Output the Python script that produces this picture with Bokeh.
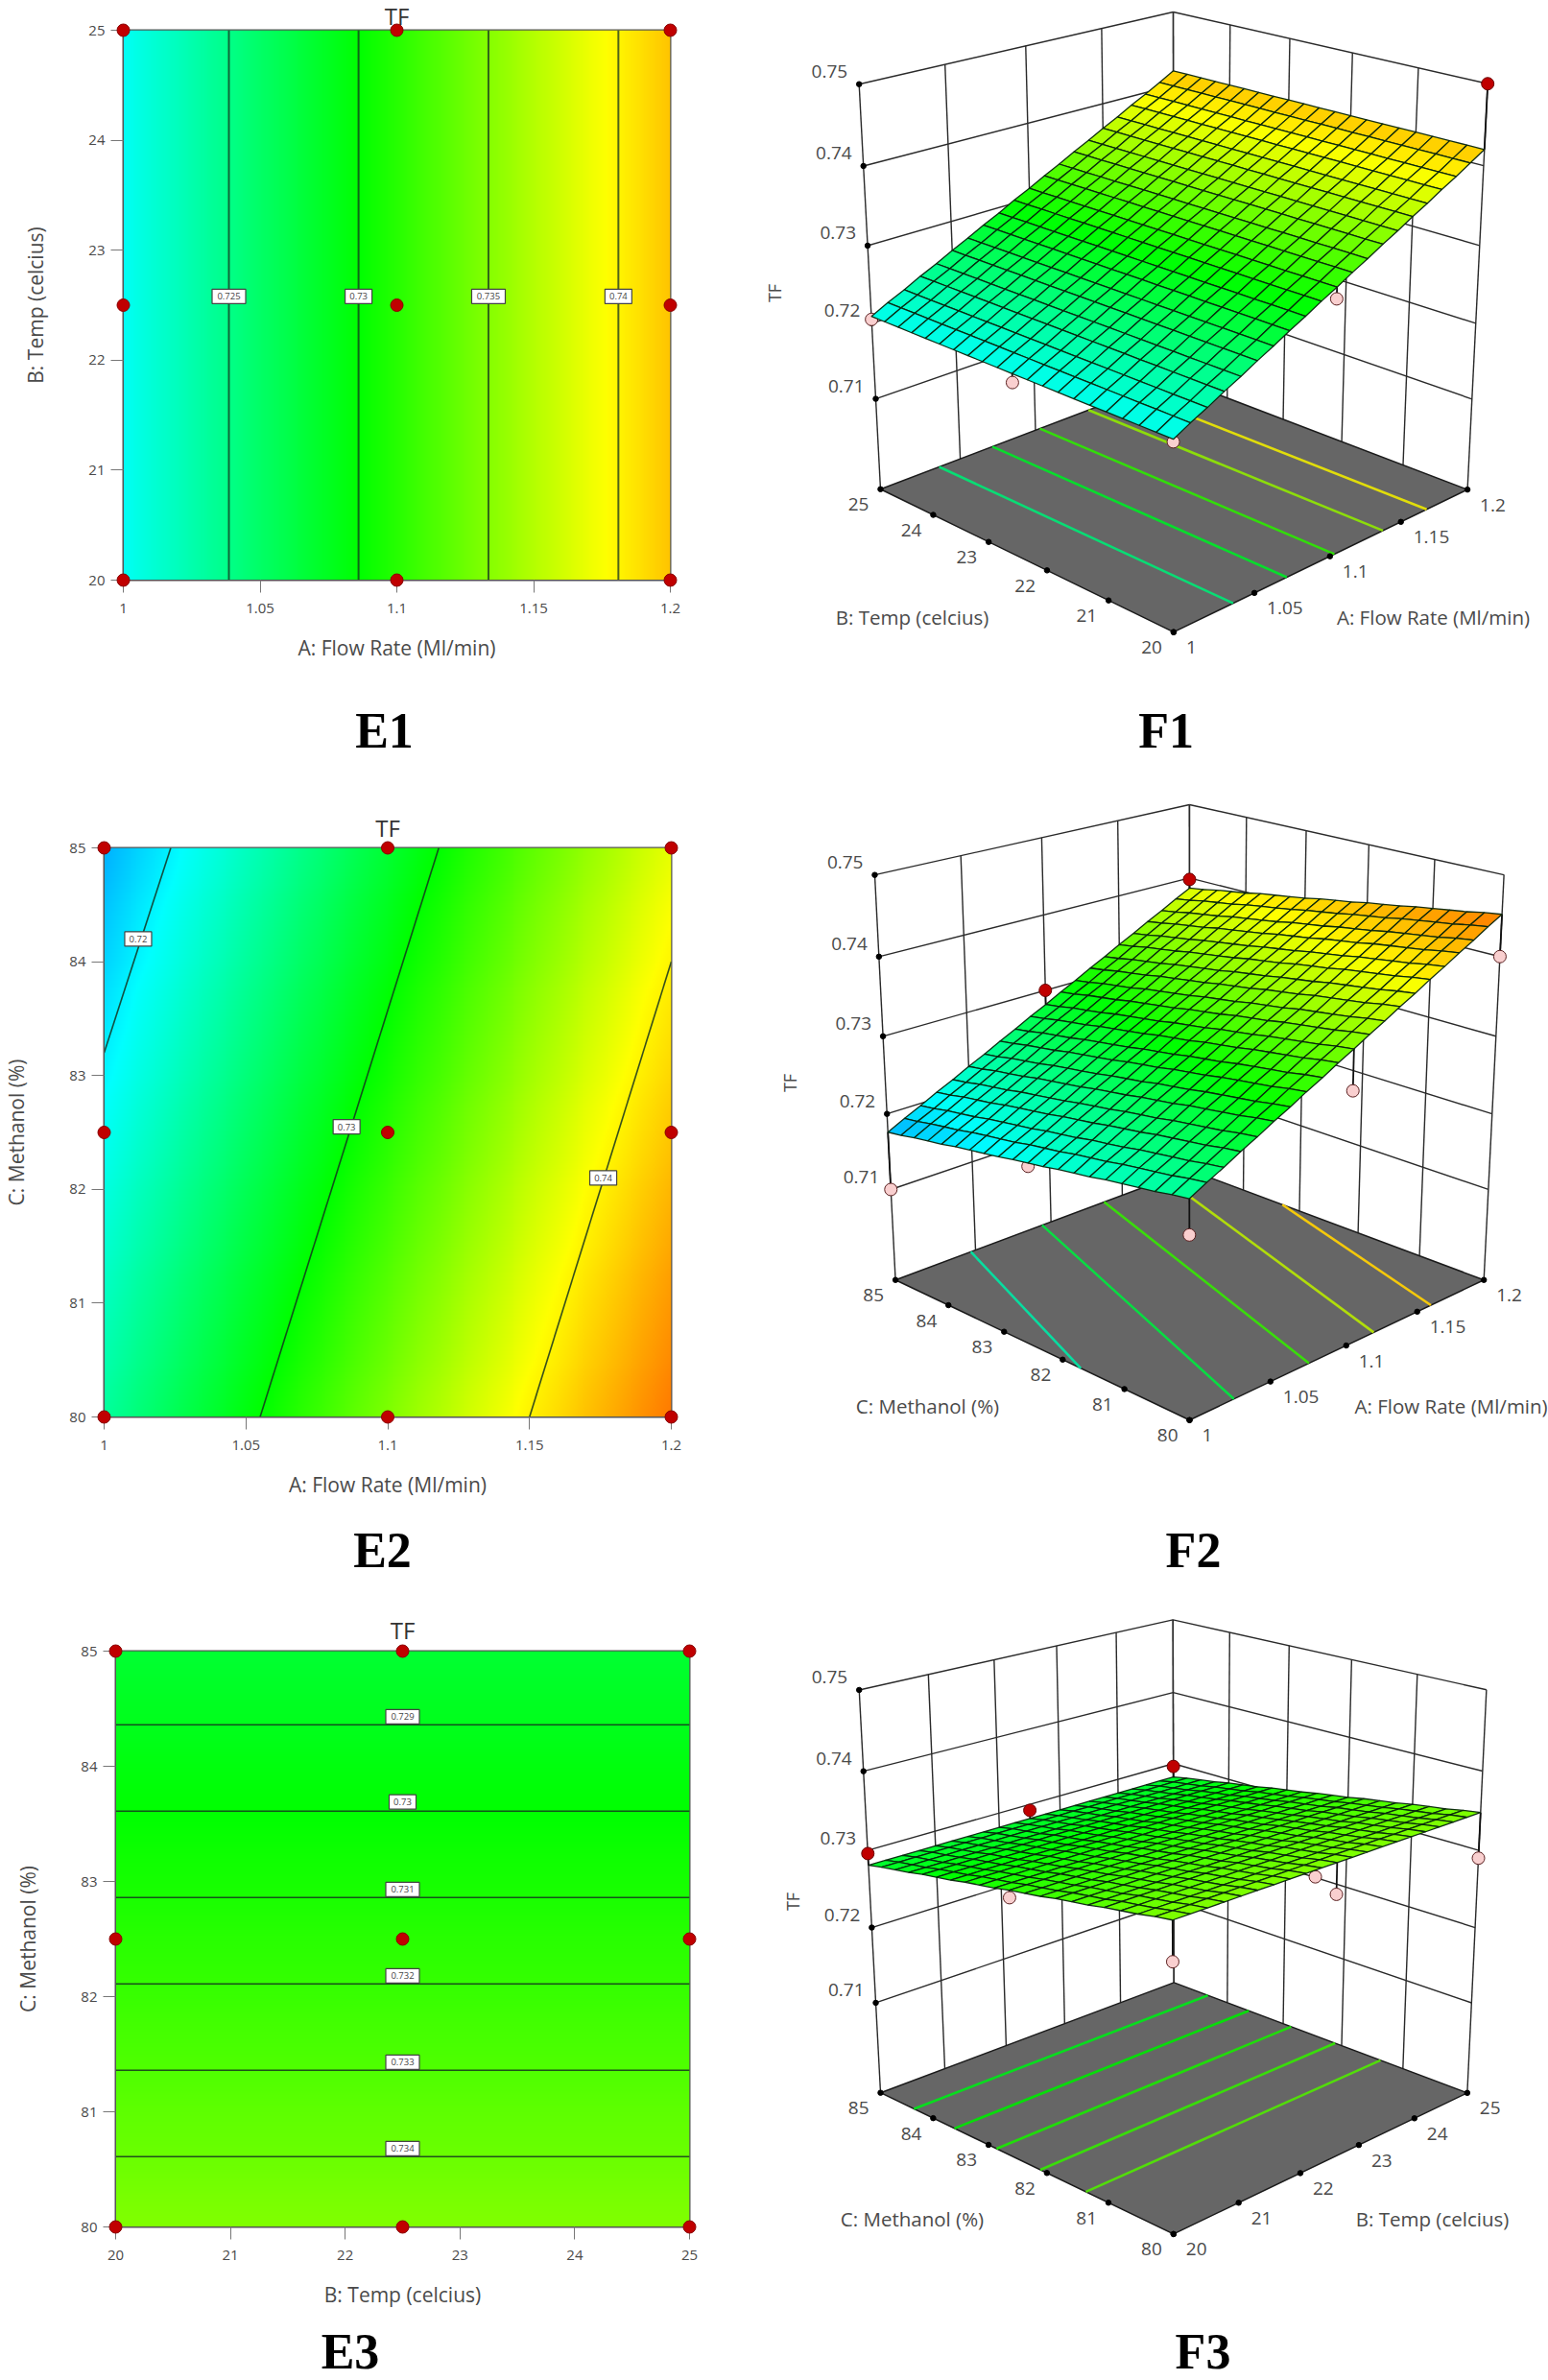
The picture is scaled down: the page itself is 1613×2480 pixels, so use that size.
import numpy as np
from bokeh.core.properties import value
from bokeh.embed import file_html
from bokeh.layouts import column, row
from bokeh.models import FixedTicker, Range1d
from bokeh.plotting import figure
from bokeh.resources import INLINE

# ---------- data ----------
flow_ticks = [1, 1.05, 1.1, 1.15, 1.2]
flow_labels = ["1", "1.05", "1.1", "1.15", "1.2"]
temp_ticks = [20, 21, 22, 23, 24, 25]
temp_labels = ["20", "21", "22", "23", "24", "25"]
meth_ticks = [80, 81, 82, 83, 84, 85]
meth_labels = ["80", "81", "82", "83", "84", "85"]
tf_ticks = [0.71, 0.72, 0.73, 0.74, 0.75]
tf_labels = ["0.71", "0.72", "0.73", "0.74", "0.75"]
TF_FLOOR = 0.6977

# response over the 21 mesh positions of each factor (low to high)
f1_tf_flow = [0.7209, 0.7220, 0.7230, 0.7241, 0.7251, 0.7262, 0.7272, 0.7283, 0.7293, 0.7304, 0.7314,
              0.7325, 0.7335, 0.7346, 0.7356, 0.7367, 0.7377, 0.7388, 0.7398, 0.7409, 0.7420]
f1_tf_temp = [0.0] * 21
f2_tf_flow = [0.7176, 0.7187, 0.7197, 0.7208, 0.7218, 0.7229, 0.7239, 0.7250, 0.7260, 0.7271, 0.7281,
              0.7292, 0.7302, 0.7313, 0.7323, 0.7334, 0.7344, 0.7355, 0.7365, 0.7376, 0.7386]
f2_tf_meth = [0.0066, 0.0063, 0.0059, 0.0056, 0.0053, 0.0050, 0.0046, 0.0043, 0.0040, 0.0036, 0.0033,
              0.0030, 0.0026, 0.0023, 0.0020, 0.0017, 0.0013, 0.0010, 0.0007, 0.0003, 0.0]
f3_tf_temp = [0.0] * 21
f3_tf_meth = [0.7348, 0.7345, 0.7341, 0.7338, 0.7335, 0.7331, 0.7328, 0.7325, 0.7321, 0.7318, 0.7315,
              0.7311, 0.7308, 0.7305, 0.7301, 0.7298, 0.7295, 0.7291, 0.7288, 0.7285, 0.7281]

# contour plots: design points
e1_pts_flow = [1, 1, 1, 1.1, 1.1, 1.1, 1.2, 1.2, 1.2]
e1_pts_temp = [20, 22.5, 25, 20, 22.5, 25, 20, 22.5, 25]
e2_pts_flow = [1, 1, 1, 1.1, 1.1, 1.1, 1.2, 1.2, 1.2]
e2_pts_meth = [80, 82.5, 85, 80, 82.5, 85, 80, 82.5, 85]
e3_pts_temp = [20, 20, 20, 22.5, 22.5, 22.5, 25, 25, 25]
e3_pts_meth = [80, 82.5, 85, 80, 82.5, 85, 80, 82.5, 85]

# contour lines
e1_line_flow = [1.0386, 1.086, 1.1335, 1.181]
e1_label_text = ["0.725", "0.73", "0.735", "0.74"]
e2_line_flow = [[1.0, 1.0235], [1.055, 1.118], [1.15, 1.2]]
e2_line_meth = [[83.2, 85.0], [80.0, 85.0], [80.0, 84.0]]
e2_label_flow = [1.012, 1.0855, 1.176]
e2_label_meth = [84.2, 82.55, 82.1]
e2_label_text = ["0.72", "0.73", "0.74"]
e3_line_meth = [84.36, 83.61, 82.86, 82.11, 81.36, 80.61]
e3_label_meth = [84.43, 83.69, 82.93, 82.18, 81.43, 80.68]
e3_label_text = ["0.729", "0.73", "0.731", "0.732", "0.733", "0.734"]

# floor contours of the surfaces: factor-1 start, factor-1 end, factor-2 start, factor-2 end, level
f1_floor_flow = [[1.0365, 1.0365], [1.071, 1.071], [1.103, 1.103], [1.137, 1.137], [1.169, 1.169]]
f1_floor_temp = [[20, 25]] * 5
f1_floor_level = [0.7247, 0.7283, 0.7317, 0.7353, 0.7387]
f2_floor_flow = [[1.0, 1.047], [1.027, 1.094], [1.075, 1.137], [1.119, 1.182], [1.16, 1.2]]
f2_floor_meth = [[81.7, 85], [80, 85], [80, 85], [80, 85], [80, 83.3]]
f2_floor_level = [0.7225, 0.7272, 0.732, 0.7368, 0.7405]
f3_floor_temp = [[20, 25]] * 5
f3_floor_meth = [[84.36, 84.36], [83.61, 83.61], [82.86, 82.86], [82.11, 82.11], [81.36, 81.36]]
f3_floor_level = [0.729, 0.73, 0.731, 0.732, 0.733]

# surfaces: actual runs (red above the surface, pink below)
f1_run_flow = [1, 1, 1, 1.1, 1.2]
f1_run_temp = [25, 22.5, 20, 20, 20]
f1_run_tf = [0.7205, 0.7198, 0.7206, 0.7300, 0.75]
f2_run_flow = [1, 1, 1, 1.1, 1.2, 1.2, 1.1]
f2_run_meth = [85, 82.5, 80, 80, 80, 85, 85]
f2_run_tf = [0.71, 0.7205, 0.72, 0.7297, 0.74, 0.7398, 0.73]
f3_run_temp = [20, 22.5, 25, 25, 20, 20, 22.5, 25]
f3_run_meth = [82.5, 80, 82.5, 80, 80, 85, 85, 85]
f3_run_tf = [0.7306, 0.731, 0.7201, 0.729, 0.7301, 0.7296, 0.7292, 0.7296]

# ---------- styles ----------
FONT = "Open Sans"
TEXT = "#4a4a4a"
RED, PINK, EDGE = "#c00000", "#f9cfcf", "#5a2020"
COLOR_TF = [0.7110, 0.7205, 0.7300, 0.7395, 0.7505]
COLOR_R = [0, 0, 0, 255, 255]
COLOR_G = [0, 255, 255, 255, 0]
COLOR_B = [255, 255, 0, 0, 0]
MESH = np.linspace(0, 1, 21)


def rgb(v):
    return (np.interp(v, COLOR_TF, COLOR_R), np.interp(v, COLOR_TF, COLOR_G), np.interp(v, COLOR_TF, COLOR_B))


def hexcol(v):
    r, g, b = rgb(v)
    return "#%02x%02x%02x" % (int(r), int(g), int(b))


def contour_fig(xr, yr, xt, xl, yt, yl, xt_title, yt_title, left, top, fw, fh, W, H, tf_top, capx, capy, capname, prof_x, prof_y):
    p = figure(width=W, height=H, frame_width=fw, frame_height=fh, x_range=Range1d(*xr), y_range=Range1d(*yr),
               output_backend="svg", toolbar_location=None, tools="",
               min_border_left=left, min_border_top=top, min_border_right=W - left - fw,
               min_border_bottom=H - top - fh, background_fill_color="white")
    p.grid.visible = False
    p.outline_line_color = "#555555"
    p.outline_line_width = 2
    for ax, t, l, title in ((p.xaxis[0], xt, xl, xt_title), (p.yaxis[0], yt, yl, yt_title)):
        ax.ticker = FixedTicker(ticks=t)
        ax.major_label_overrides = dict(zip(t, l))
        ax.minor_tick_line_color = None
        ax.major_tick_in = 0
        ax.major_tick_out = 13
        ax.major_tick_line_color = "#777777"
        ax.axis_line_color = "#555555"
        ax.major_label_text_font = FONT
        ax.major_label_text_font_size = "15px"
        ax.major_label_text_color = TEXT
        ax.axis_label = title
        ax.axis_label_text_font = FONT
        ax.axis_label_text_font_size = "21px"
        ax.axis_label_text_font_style = "normal"
        ax.axis_label_text_color = TEXT
    p.xaxis[0].major_label_standoff = 11
    p.yaxis[0].major_label_standoff = 6
    p.xaxis[0].axis_label_standoff = 19
    p.yaxis[0].axis_label_standoff = 38

    nx, ny = 300, 300
    fx = np.linspace(0, 1, nx)
    fy = np.linspace(0, 1, ny)
    vx = np.interp(fx, MESH, prof_x)
    vy = np.interp(fy, MESH, prof_y)
    vals = vx[None, :] + vy[:, None]
    r, g, b = rgb(vals)
    img = np.zeros((ny, nx), dtype=np.uint32)
    view = img.view(np.uint8).reshape(ny, nx, 4)
    view[..., 0], view[..., 1], view[..., 2], view[..., 3] = r, g, b, 255
    p.image_rgba(image=[img], x=xr[0], y=yr[0], dw=xr[1] - xr[0], dh=yr[1] - yr[0])

    p.text(x=[(xr[0] + xr[1]) / 2], y=[yr[1]], text=["TF"], y_offset=-tf_top, level="overlay",
           text_font=value(FONT), text_font_size="24px", text_color="#333333",
           text_align="center", text_baseline="middle")
    p.text(x=[xr[0] + capx / fw * (xr[1] - xr[0])], y=[yr[0]], text=[capname], y_offset=capy, level="overlay",
           text_font=value("Liberation Serif"), text_font_size="52px", text_font_style="bold",
           text_color="black", text_align="center", text_baseline="middle")
    return p


def add_labels(p, xs, ys, labels):
    p.rect(x=xs, y=ys, width=[35 if len(t) > 4 else 28 for t in labels], height=[15] * len(xs),
           width_units="screen", height_units="screen",
           fill_color="white", line_color="#444444", line_width=1.2)
    p.text(x=xs, y=ys, text=labels, text_font=value(FONT), text_font_size="9.5px", text_color="#444444",
           text_align="center", text_baseline="middle")


def add_points(p, xs, ys):
    p.scatter(x=xs, y=ys, size=13, fill_color=RED, line_color="#8a0000", line_width=1, level="overlay")


# ---------- E1 ----------
e1 = contour_fig((1, 1.2), (20, 25), flow_ticks, flow_labels, temp_ticks, temp_labels,
                 "A: Flow Rate (Ml/min)", "B: Temp (celcius)", 128, 31, 570, 573, 760, 830, 15, 272, 157, "E1",
                 f1_tf_flow, f1_tf_temp)
e1.multi_line(xs=[[x, x] for x in e1_line_flow], ys=[[20, 25]] * 4, line_color="#14331f", line_alpha=0.75, line_width=2)
add_labels(e1, e1_line_flow, [22.58] * 4, e1_label_text)
add_points(e1, e1_pts_flow, e1_pts_temp)

# ---------- E2 ----------
e2 = contour_fig((1, 1.2), (80, 85), flow_ticks, flow_labels, meth_ticks, meth_labels,
                 "A: Flow Rate (Ml/min)", "C: Methanol (%)", 107, 53, 591, 593, 760, 820, 21, 290, 138.5, "E2",
                 f2_tf_flow, f2_tf_meth)
e2.multi_line(xs=e2_line_flow, ys=e2_line_meth, line_color="#14331f", line_alpha=0.85, line_width=1.6)
add_labels(e2, e2_label_flow, e2_label_meth, e2_label_text)
add_points(e2, e2_pts_flow, e2_pts_meth)

# ---------- E3 ----------
e3 = contour_fig((20, 25), (80, 85), temp_ticks, temp_labels, meth_ticks, meth_labels,
                 "B: Temp (celcius)", "C: Methanol (%)", 120, 70, 598, 600, 760, 830, 22, 244.5, 130, "E3",
                 f3_tf_temp, f3_tf_meth)
e3.multi_line(xs=[[20, 25]] * 6, ys=[[y, y] for y in e3_line_meth], line_color="#14331f", line_alpha=0.85, line_width=1.6)
add_labels(e3, [22.5] * 6, e3_label_meth, e3_label_text)
add_points(e3, e3_pts_temp, e3_pts_meth)


# ---------- surfaces ----------
def camera(c):
    A, b = [], []
    for k, ((u, v, w), (x, y)) in enumerate(c):
        g = 4.0 if k < 7 else 1.0
        A.append([g * t for t in [u, v, w, 1, 0, 0, 0, 0, -x * u, -x * v, -x * w]])
        A.append([g * t for t in [0, 0, 0, 0, u, v, w, 1, -y * u, -y * v, -y * w]])
        b += [g * x, g * y]
    s = np.linalg.lstsq(np.array(A, float), np.array(b, float), rcond=None)[0]
    return np.append(s, 1.0).reshape(3, 4)


def surface_fig(view_x, view_y, corners, right_t, right_l, right_range, left_t, left_l, left_range,
                prof_u, prof_v, floor_u, floor_v, floor_lv, run_u, run_v, run_tf,
                left_title, right_title, ltpos, rtpos, tfpos, cap, cappos):
    W, H = view_x[1] - view_x[0], view_y[1] - view_y[0]
    p = figure(width=W, height=H, x_range=Range1d(*view_x), y_range=Range1d(view_y[1], view_y[0]),
               output_backend="svg", toolbar_location=None, tools="", x_axis_location=None, y_axis_location=None,
               min_border=0, background_fill_color="white")
    p.grid.visible = False
    p.outline_line_color = None
    P = camera(corners)

    def proj(u, v, tf):
        u, v, tf = np.asarray(u, float), np.asarray(v, float), np.asarray(tf, float)
        w = (tf - TF_FLOOR) / (0.75 - TF_FLOOR)
        q = np.stack([u, v, w, np.ones_like(u)])
        r = P @ q
        return r[0] / r[2], r[1] / r[2]

    nu = lambda t: [(a - right_range[0]) / (right_range[1] - right_range[0]) for a in t]
    nv = lambda t: [(a - left_range[0]) / (left_range[1] - left_range[0]) for a in t]
    ut, vt = nu(right_t), nv(left_t)

    # walls
    seg_x, seg_y = [], []

    def seg(a, b):
        x, y = proj([a[0], b[0]], [a[1], b[1]], [a[2], b[2]])
        seg_x.append(list(x))
        seg_y.append(list(y))

    for u in ut:
        seg((u, 1, TF_FLOOR), (u, 1, 0.75))
    for v in vt:
        seg((1, v, TF_FLOOR), (1, v, 0.75))
    for t in tf_ticks:
        seg((0, 1, t), (1, 1, t))
        seg((1, 1, t), (1, 0, t))
    p.multi_line(xs=seg_x, ys=seg_y, line_color="#2a2a2a", line_width=1.4)

    # floor
    fx, fy = proj([0, 1, 1, 0], [0, 0, 1, 1], [TF_FLOOR] * 4)
    p.patch(x=list(fx), y=list(fy), fill_color="#666666", line_color="#1a1a1a", line_width=1.5)
    lx, ly, lc = [], [], []
    for us, vs, lv in zip(floor_u, floor_v, floor_lv):
        x, y = proj(nu(us), nv(vs), [TF_FLOOR] * 2)
        lx.append(list(x))
        ly.append(list(y))
        r, g, b = rgb(lv)
        lc.append("#%02x%02x%02x" % (int(r * 0.93 + 8), int(g * 0.87), int(b * 0.75 + 10)))
    p.multi_line(xs=lx, ys=ly, line_color=lc, line_width=2.6)

    # dots on the axes
    x1, y1 = proj(ut, [0] * len(ut), [TF_FLOOR] * len(ut))
    x2, y2 = proj([0] * len(vt), vt, [TF_FLOOR] * len(vt))
    x3, y3 = proj([0] * len(tf_ticks), [1] * len(tf_ticks), tf_ticks)
    p.scatter(x=list(x1) + list(x2) + list(x3), y=list(y1) + list(y2) + list(y3), size=5.5, fill_color="black", line_color="black")

    # runs
    rx, ry = proj(nu(run_u), nv(run_v), run_tf)
    surf = [np.interp(a, MESH, prof_u) + np.interp(b, MESH, prof_v) for a, b in zip(nu(run_u), nv(run_v))]
    sx, sy = proj(nu(run_u), nv(run_v), surf)
    above = [t > s for t, s in zip(run_tf, surf)]
    below = [not a for a in above]

    def pick(arr, mask):
        return [float(a) for a, m in zip(arr, mask) if m]

    p.multi_line(xs=[[a, b] for a, b in zip(pick(rx, below), pick(sx, below))],
                 ys=[[a, b] for a, b in zip(pick(ry, below), pick(sy, below))], line_color="#111111", line_width=1.8)
    p.scatter(x=pick(rx, below), y=pick(ry, below), size=13, fill_color=PINK, line_color=EDGE, line_width=1)

    # surface mesh
    xs, ys, cs = [], [], []
    for i in range(19, -1, -1):
        for j in range(19, -1, -1):
            uu = [MESH[i], MESH[i + 1], MESH[i + 1], MESH[i]]
            vv = [MESH[j], MESH[j], MESH[j + 1], MESH[j + 1]]
            tt = [prof_u[i] + prof_v[j], prof_u[i + 1] + prof_v[j], prof_u[i + 1] + prof_v[j + 1], prof_u[i] + prof_v[j + 1]]
            x, y = proj(uu, vv, tt)
            xs.append(list(x))
            ys.append(list(y))
            cs.append(hexcol(np.mean(tt)))
    p.patches(xs=xs, ys=ys, fill_color=cs, line_color="#06240c", line_alpha=0.95, line_width=1.3)

    p.multi_line(xs=[[a, b] for a, b in zip(pick(rx, above), pick(sx, above))],
                 ys=[[a, b] for a, b in zip(pick(ry, above), pick(sy, above))], line_color="#111111", line_width=1.8)
    p.scatter(x=pick(rx, above), y=pick(ry, above), size=13, fill_color=RED, line_color="#6a0000", line_width=1)

    # texts
    kw = dict(text_font=value(FONT), text_font_size="19px", text_color=TEXT, text_baseline="middle")
    p.text(x=list(x1), y=list(y1), text=right_l, text_align="left", x_offset=13, y_offset=16, **kw)
    p.text(x=list(x2), y=list(y2), text=left_l, text_align="right", x_offset=-12, y_offset=16, **kw)
    p.text(x=list(x3), y=list(y3), text=tf_labels, text_align="right", x_offset=-12, y_offset=-13, **kw)
    kw2 = dict(text_font=value(FONT), text_font_size="20.5px", text_color=TEXT, text_baseline="middle", text_align="center")
    p.text(x=[ltpos[0]], y=[ltpos[1]], text=[left_title], **kw2)
    p.text(x=[rtpos[0]], y=[rtpos[1]], text=[right_title], **kw2)
    p.text(x=[tfpos[0]], y=[tfpos[1]], text=["TF"], angle=np.pi / 2, text_font=value(FONT), text_font_size="18px",
           text_color=TEXT, text_baseline="middle", text_align="center")
    p.text(x=[cappos[0]], y=[cappos[1]], text=[cap], text_font=value("Liberation Serif"), text_font_size="52px",
           text_font_style="bold", text_color="black", text_baseline="middle", text_align="center")
    return p


f1 = surface_fig((760, 1613), (0, 830),
                 [((0, 0, 0), (1222.1, 658.2)), ((0, 1, 0), (917.1, 509.2)), ((1, 0, 0), (1529.2, 509.2)),
                  ((1, 1, 0), (1222.1, 392.9)), ((0, 1, 1), (894.8, 86.7)), ((1, 0, 1), (1549.4, 86.7)),
                  ((1, 1, 1), (1222.1, 12.2)), ((0.5, 1, 1), (1060, 49.5)), ((1, 0.6, 1), (1352.3, 41.8)),
                  ((0.5, 0, 0), (1376.2, 584.2)), ((0, 0.6, 0), (1038.8, 568.9))],
                 flow_ticks, flow_labels, (1, 1.2), temp_ticks, temp_labels, (20, 25),
                 f1_tf_flow, f1_tf_temp, f1_floor_flow, f1_floor_temp, f1_floor_level,
                 f1_run_flow, f1_run_temp, f1_run_tf,
                 "B: Temp (celcius)", "A: Flow Rate (Ml/min)", (950, 642), (1493, 642), (806.6, 305), "F1", (1214.6, 761))

f2 = surface_fig((760, 1613), (830, 1650),
                 [((0, 0, 0), (1238, 1480.1)), ((0, 1, 0), (931.4, 1332.1)), ((1, 0, 0), (1545.1, 1332.1)),
                  ((1, 1, 0), (1238, 1219.6)), ((0, 1, 1), (910.2, 911.1)), ((1, 0, 1), (1565.3, 911.1)),
                  ((1, 1, 1), (1238, 837.8)), ((0.5, 1, 1), (1074.9, 874.5)), ((1, 0.6, 1), (1368.7, 867.1)),
                  ((0.5, 0, 0), (1392.1, 1405.3)), ((0, 0.6, 0), (1053.6, 1392.2))],
                 flow_ticks, flow_labels, (1, 1.2), meth_ticks, meth_labels, (80, 85),
                 f2_tf_flow, f2_tf_meth, f2_floor_flow, f2_floor_meth, f2_floor_level,
                 f2_run_flow, f2_run_meth, f2_run_tf,
                 "C: Methanol (%)", "A: Flow Rate (Ml/min)", (965, 1464), (1510.6, 1464), (821.4, 1128), "F2", (1242, 1614.5))

f3 = surface_fig((760, 1613), (1650, 2480),
                 [((0, 0, 0), (1222.1, 2328.6)), ((0, 1, 0), (917.1, 2178.8)), ((1, 0, 0), (1529.2, 2178.8)),
                  ((1, 1, 0), (1222.1, 2066.7)), ((0, 1, 1), (894.8, 1760.4)), ((1, 0, 1), (1547.8, 1760.4)),
                  ((1, 1, 1), (1222.1, 1687)), ((0.4, 1, 1), (1027.1, 1731)), ((1, 0.6, 1), (1352.3, 1716.5)),
                  ((0.6, 0, 0), (1404.9, 2238.2)), ((0, 0.6, 0), (1038.8, 2239.2))],
                 temp_ticks, temp_labels, (20, 25), meth_ticks, meth_labels, (80, 85),
                 f3_tf_temp, f3_tf_meth, f3_floor_temp, f3_floor_meth, f3_floor_level,
                 f3_run_temp, f3_run_meth, f3_run_tf,
                 "C: Methanol (%)", "B: Temp (celcius)", (950, 2311.5), (1492, 2311.5), (825, 1981), "F3", (1253, 2450))

page = column(row(column(e1), column(f1)), row(column(e2), column(f2)), row(column(e3), column(f3)))
open("out.html", "w").write(file_html(page, INLINE))
